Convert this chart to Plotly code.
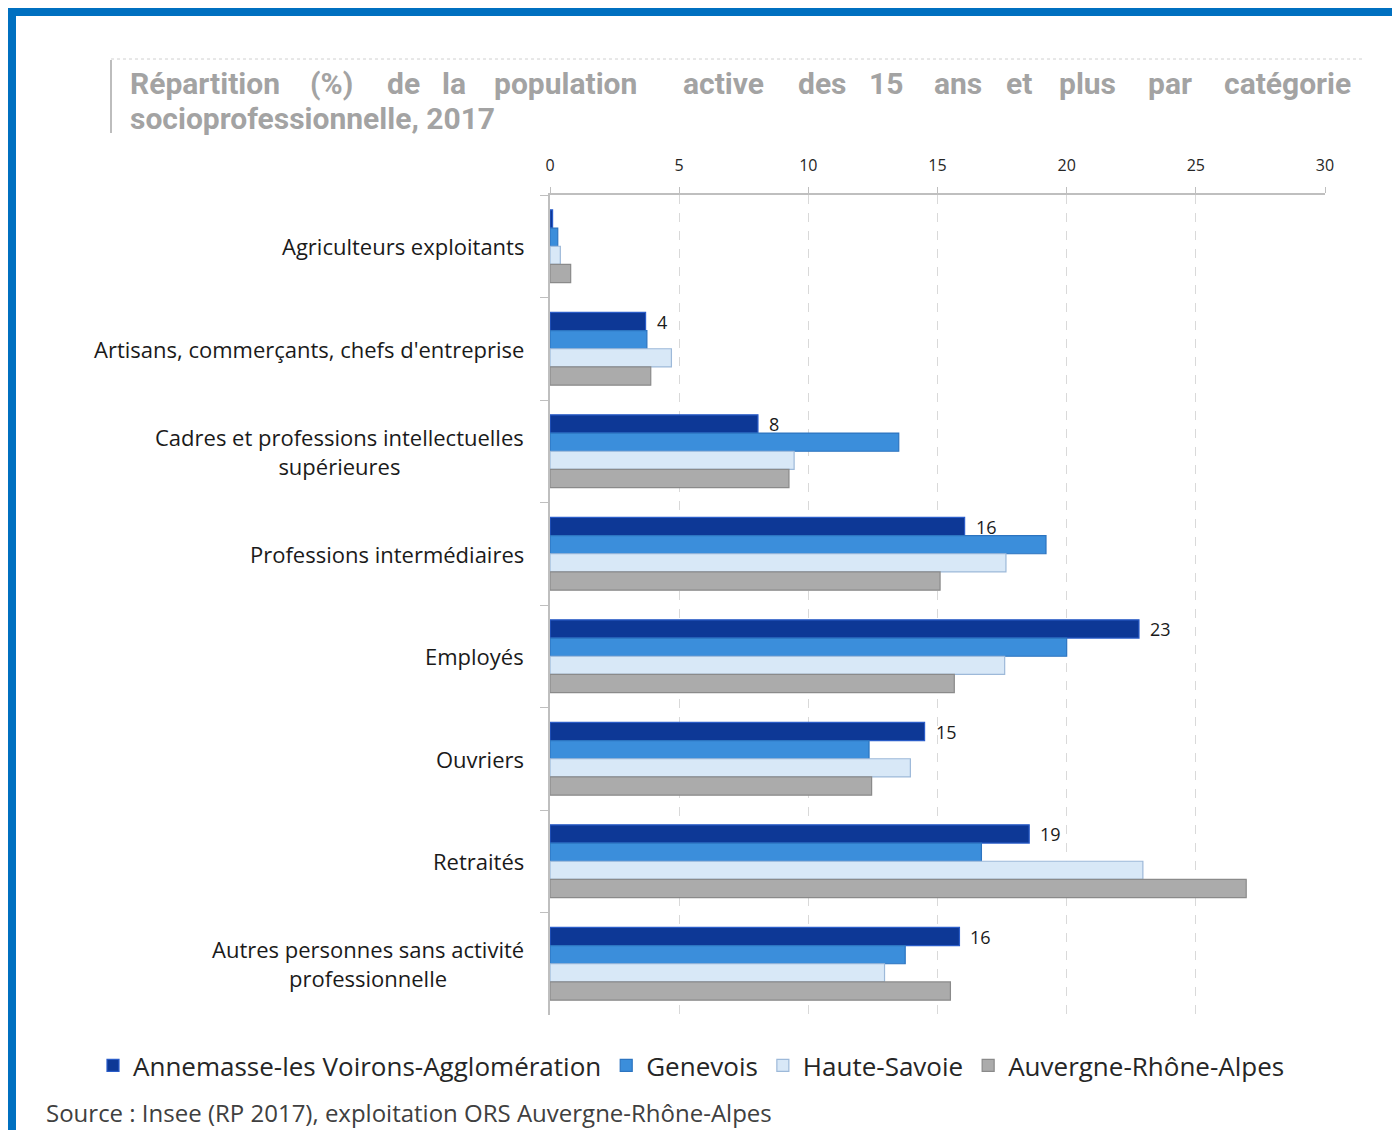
import plotly.graph_objects as go

categories = [
    "Agriculteurs exploitants",
    "Artisans, commerçants, chefs d'entreprise",
    "Cadres et professions intellectuelles<br>supérieures",
    "Professions intermédiaires",
    "Employés",
    "Ouvriers",
    "Retraités",
    "Autres personnes sans activité<br>professionnelle",
]
series_names = ["Annemasse-les Voirons-Agglomération", "Genevois", "Haute-Savoie", "Auvergne-Rhône-Alpes"]
annemasse = [0.1, 3.7, 8.05, 16.05, 22.8, 14.5, 18.55, 15.85]
genevois = [0.3, 3.75, 13.5, 19.2, 20.0, 12.35, 16.7, 13.75]
haute_savoie = [0.4, 4.7, 9.45, 17.65, 17.6, 13.95, 22.95, 12.95]
ara = [0.8, 3.9, 9.25, 15.1, 15.65, 12.45, 26.95, 15.5]
annemasse_labels = ["", "4", "8", "16", "23", "15", "19", "16"]
x_ticks = [0, 5, 10, 15, 20, 25, 30]

# page body offset (default html body margin)
OX, OY = 8, 8
W, H = 1400, 1130
L, R, T, B = 542, 83, 187, 123
PW, PH = W - L - R, H - T - B


def px(x):
    return (x - OX - L) / PW


def py(y):
    return (H - B - (y - OY)) / PH


fills = ["#0d3896", "#3b8edb", "#d8e8f7", "#ababab"]
lines = ["#2a5cc8", "#2c74c0", "#9db9d9", "#8a8a8a"]
values = [annemasse, genevois, haute_savoie, ara]

fig = go.Figure()
for i, (name, vals) in enumerate(zip(series_names, values)):
    fig.add_trace(go.Bar(
        y=categories, x=vals, name=name, orientation="h",
        marker=dict(color=fills[i], line=dict(color=lines[i], width=1.2)),
    ))

annotations = []
for c in categories:
    annotations.append(dict(
        xref="paper", yref="y", x=px(526), y=c, text=c, showarrow=False,
        xanchor="right", yanchor="middle", align="center",
        font=dict(family="Open Sans", size=22, color="#1a1a1a"),
    ))

for c, v, lab in zip(categories, annemasse, annemasse_labels):
    if lab:
        annotations.append(dict(
            xref="x", yref="y", x=v, y=c, text=lab, showarrow=False,
            xanchor="left", yanchor="middle", xshift=9, yshift=27,
            font=dict(family="Open Sans", size=18, color="#1a1a1a"),
        ))

title_words = [("Répartition", 128), ("(%)", 308), ("de", 385), ("la", 440), ("population", 492),
               ("active", 681), ("des", 796), ("15", 867), ("ans", 932), ("et", 1004),
               ("plus", 1057), ("par", 1146), ("catégorie", 1222)]
tfont = dict(family="Roboto", size=30, color="#a3a3a3", weight="bold")
for w, xx in title_words:
    annotations.append(dict(xref="paper", yref="paper", x=px(xx), y=py(83), text=w,
                            showarrow=False, xanchor="left", yanchor="middle", font=tfont))
annotations.append(dict(xref="paper", yref="paper", x=px(128), y=py(119),
                        text="socioprofessionnelle, 2017", showarrow=False,
                        xanchor="left", yanchor="middle", font=tfont))
annotations.append(dict(xref="paper", yref="paper", x=px(44), y=py(1112),
                        text="Source : Insee (RP 2017), exploitation ORS Auvergne-Rhône-Alpes",
                        showarrow=False, xanchor="left", yanchor="middle",
                        font=dict(family="Open Sans", size=24, color="#404040")))

shapes = [
    dict(type="rect", xref="paper", yref="paper", x0=px(12), x1=px(1420), y0=py(12), y1=py(1160),
         line=dict(color="#0070c0", width=8), fillcolor="rgba(0,0,0,0)", layer="above"),
    dict(type="line", xref="paper", yref="paper", x0=px(111), x1=px(111), y0=py(60), y1=py(133),
         line=dict(color="#bdbdbd", width=2)),
    dict(type="line", xref="paper", yref="paper", x0=px(111), x1=px(1362), y0=py(59), y1=py(59),
         line=dict(color="#d0d0d0", width=1, dash="dot")),
]

fig.update_layout(
    width=W, height=H,
    margin=dict(l=L, r=R, t=T, b=B),
    paper_bgcolor="white", plot_bgcolor="white",
    barmode="group", bargap=0.29, bargroupgap=0,
    showlegend=True,
    legend=dict(orientation="h", x=px(93), y=py(1042), xanchor="left", yanchor="top",
                font=dict(family="Open Sans", size=26, color="#262626"),
                traceorder="normal", itemwidth=30, tracegroupgap=0),
    annotations=annotations,
    shapes=shapes,
    xaxis=dict(side="top", range=[0, 30], tickvals=x_ticks, ticktext=[str(t) for t in x_ticks],
               showgrid=True, gridcolor="#d9d9d9", griddash="dash", gridwidth=1,
               showline=True, linecolor="#bfbfbf", linewidth=1.5,
               ticks="outside", ticklen=6, tickcolor="#bfbfbf", ticklabelstandoff=10,
               tickfont=dict(family="Open Sans", size=16, color="#262626"),
               zeroline=False, fixedrange=True),
    yaxis=dict(autorange="reversed", showticklabels=False, showline=True,
               linecolor="#bfbfbf", linewidth=1.5, ticks="outside", ticklen=8,
               tickcolor="#bfbfbf", tickson="boundaries", showgrid=False),
)

fig.write_html("out.html")
